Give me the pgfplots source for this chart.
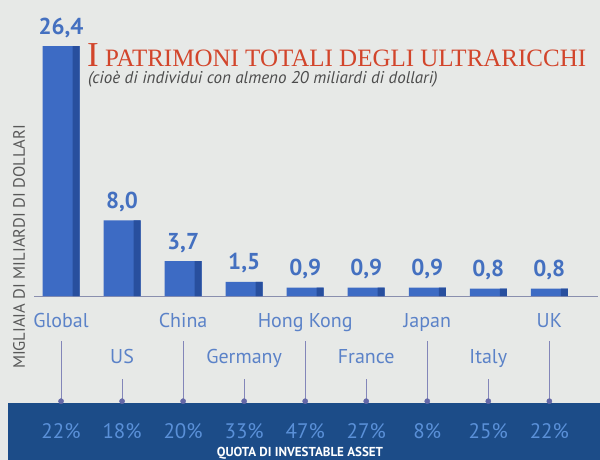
\documentclass[border=0pt]{standalone}
\usepackage{pgfplots}
\pgfplotsset{compat=1.18}
\usepackage{pgfplotstable}
\usepackage{fontspec}
\setmainfont{PT Sans}
\newfontfamily\serif{Liberation Serif}
\definecolor{bg}{HTML}{E7E9E7}
\definecolor{band}{HTML}{1C4C88}
\definecolor{barmain}{HTML}{3D6BC4}
\definecolor{bardark}{HTML}{284F9E}
\definecolor{valc}{HTML}{4470C0}
\definecolor{catc}{HTML}{5B82C8}
\definecolor{pctc}{HTML}{5A90D8}
\definecolor{dotc}{HTML}{6468A8}
\definecolor{linec}{HTML}{8A8FAE}
\definecolor{titlec}{HTML}{D2452B}
\pgfplotstableread{
x val
0 26.4
1 8.0
2 3.7
3 1.5
4 0.9
5 0.9
6 0.9
7 0.8
8 0.8
}\datatable
\begin{document}
\begin{tikzpicture}[x=1pt,y=1pt]
\useasboundingbox (0,0) rectangle (600,460);
\clip (0,0) rectangle (600,460);
\fill[bg] (0,0) rectangle (600,460);
\fill[band] (8,0) rectangle (600,57);
\begin{axis}[
  at={(56,173)}, anchor=south west,
  scale only axis, width=564pt, height=295pt,
  xmin=-0.44, xmax=8.8, ymin=0, ymax=31.15,
  clip=false,
  axis x line*=bottom, axis y line=none,
  x axis line style={-, color=linec, line width=0.6pt},
  major tick length=0pt,
  xtick={0,2,4,6,8},
  xticklabels={Global,China,Hong Kong,Japan,UK},
  extra x ticks={1,3,5,7},
  extra x tick labels={US,Germany,France,Italy},
  xticklabel style={font=\fontsize{20}{20}\selectfont, text=catc, anchor=base, yshift=-31pt},
  extra x tick style={xticklabel style={yshift=-36pt}, major tick length=0pt},
]
\addplot[ybar, bar width=37pt, bar shift=0pt, fill=barmain, draw=none,
  nodes near coords,
  every node near coord/.append style={font=\bfseries\fontsize{23}{23}\selectfont, text=valc, anchor=base, yshift=12pt},
  /pgf/number format/.cd, fixed, fixed zerofill, precision=1, use comma, assume math mode=true]
  table[x=x, y=val] {\datatable};
\addplot[ybar, bar width=7pt, bar shift=15pt, fill=bardark, draw=none]
  table[x=x, y=val] {\datatable};
% connector lines
\addplot[dotc!80, line width=0.6pt, unbounded coords=jump] coordinates {
  (0,-4.75) (0,-11.09) (0,nan)
  (1,-8.76) (1,-11.09) (1,nan)
  (2,-4.75) (2,-11.09) (2,nan)
  (3,-8.76) (3,-11.09) (3,nan)
  (4,-4.75) (4,-11.09) (4,nan)
  (5,-8.76) (5,-11.09) (5,nan)
  (6,-4.75) (6,-11.09) (6,nan)
  (7,-8.76) (7,-11.09) (7,nan)
  (8,-4.75) (8,-11.09)
};
\addplot[only marks, mark=*, mark size=2.6pt, color=dotc] coordinates {
  (0,-11.09) (1,-11.09) (2,-11.09) (3,-11.09) (4,-11.09) (5,-11.09) (6,-11.09) (7,-11.09) (8,-11.09)
};
\addplot[draw=none, mark=none, point meta=explicit,
  nodes near coords={\pgfmathprintnumber[assume math mode=true]{\pgfplotspointmeta}\%},
  every node near coord/.append style={font=\fontsize{21}{21}\selectfont, text=pctc, anchor=base, inner sep=0pt}]
  coordinates {
  (0,-15.0) [22] (1,-15.0) [18] (2,-15.0) [20] (3,-15.0) [33] (4,-15.0) [47]
  (5,-15.0) [27] (6,-15.0) [8] (7,-15.0) [25] (8,-15.0) [22]
};
\end{axis}
\node[rotate=90, anchor=center, text=black!65, font=\fontsize{16.5}{16.5}\selectfont] at (19,213) {MIGLIAIA DI MILIARDI DI DOLLARI};
\node[anchor=base west, inner sep=0pt, text=titlec] at (87,393) {\serif\fontsize{35}{35}\selectfont I\fontsize{25}{25}\selectfont\ PATRIMONI TOTALI DEGLI ULTRARICCHI};
\node[anchor=base west, inner sep=0pt, text=black!70, font=\itshape\fontsize{17}{17}\selectfont] at (88,376) {(cioè di individui con almeno 20 miliardi di dollari)};
\node[anchor=base, inner sep=0pt, text=white, font=\bfseries\fontsize{13}{13}\selectfont] at (300,3) {QUOTA DI INVESTABLE ASSET};
\end{tikzpicture}
\end{document}
